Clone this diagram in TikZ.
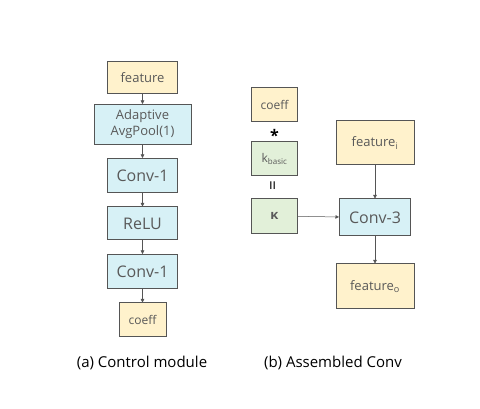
\documentclass[tikz,border=0pt]{standalone}
\usepackage{fontspec}
\setmainfont{Open Sans}
\usetikzlibrary{arrows.meta}
\definecolor{boxline}{HTML}{555555}
\definecolor{txtgray}{HTML}{595959}
\definecolor{featfill}{HTML}{FFF2CC}
\definecolor{opfill}{HTML}{D7F1F6}
\definecolor{kfill}{HTML}{E2F0D9}
\tikzset{
  blk/.style={draw=boxline,line width=1pt,text=txtgray,align=center,inner sep=0pt},
  featbox/.style={blk,fill=featfill},
  opbox/.style={blk,fill=opfill},
  kbox/.style={blk,fill=kfill},
  flow/.style={draw=boxline,line width=0.5pt,-{Triangle[length=3.5pt,width=3.5pt]}}
}
\begin{document}
\begin{tikzpicture}[x=1pt,y=-1pt]
\useasboundingbox (0,0) rectangle (480,409);
% (a) control module
\node[featbox,minimum width=70pt,minimum height=32pt,font=\fontsize{13}{15}\selectfont] (feat) at (142.5,78){feature};
\node[opbox,minimum width=97pt,minimum height=40pt,font=\fontsize{13}{16}\selectfont] (pool) at (142.5,124.5){Adaptive\\AvgPool(1)};
\node[opbox,minimum width=70pt,minimum height=34pt,font=\fontsize{16}{18}\selectfont] (conva) at (142.5,175.5){Conv-1};
\node[opbox,minimum width=70pt,minimum height=33pt,font=\fontsize{16}{18}\selectfont] (relu) at (142.5,223.5){ReLU};
\node[opbox,minimum width=70pt,minimum height=34pt,font=\fontsize{16}{18}\selectfont] (convb) at (142.5,271.5){Conv-1};
\node[featbox,minimum width=47pt,minimum height=33pt,font=\fontsize{12}{14}\selectfont] (coeffa) at (142.5,319.5){coeff};
\draw[flow] (feat) -- (pool);
\draw[flow] (pool) -- (conva);
\draw[flow] (conva) -- (relu);
\draw[flow] (relu) -- (convb);
\draw[flow] (convb) -- (coeffa);
% (b) assembled conv
\node[featbox,minimum width=46pt,minimum height=34pt,font=\fontsize{12}{14}\selectfont] (coeffb) at (274.5,104.5){coeff};
\node[font=\bfseries\fontsize{16}{16}\selectfont] (star) at (274.5,135){*};
\node[kbox,minimum width=46pt,minimum height=34pt,font=\fontsize{12}{14}\selectfont] (kbasic) at (274.5,159){k\textsubscript{basic}};
\node[rotate=90,font=\fontsize{17}{17}\selectfont] (eq) at (274.5,186){=};
\node[kbox,minimum width=46pt,minimum height=35pt,font=\bfseries\fontsize{13}{15}\selectfont] (kappa) at (274.5,216){κ};
\node[featbox,minimum width=78pt,minimum height=44pt,font=\fontsize{13}{15}\selectfont] (featin) at (375,143){feature\textsubscript{i}};
\node[opbox,minimum width=71pt,minimum height=37pt,font=\fontsize{16}{18}\selectfont] (conv3) at (375,217.5){Conv-3};
\node[featbox,minimum width=78pt,minimum height=45pt,font=\fontsize{13}{15}\selectfont] (featout) at (375,286.5){feature\textsubscript{o}};
\draw[flow] (kappa) -- (conv3);
\draw[flow] (featin) -- (conv3);
\draw[flow] (conv3) -- (featout);
% captions
\node[font=\fontsize{15}{17}\selectfont] (capa) at (142,363){(a) Control module};
\node[font=\fontsize{15}{17}\selectfont] (capb) at (333,363){(b) Assembled Conv};
\end{tikzpicture}
\end{document}
